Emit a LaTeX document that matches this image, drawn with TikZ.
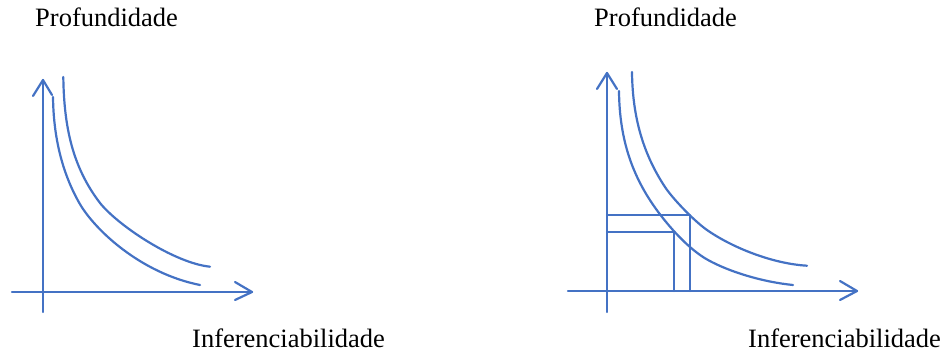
\documentclass[tikz,border=0pt]{standalone}
\usepackage{fontspec}
\setmainfont{Liberation Serif}
\definecolor{lineblue}{RGB}{68,114,196}
\begin{document}
\begin{tikzpicture}[x=1pt,y=-1pt,
  ln/.style={draw=lineblue,line width=2.2pt,line cap=round,line join=round},
  lbl/.style={anchor=base west,inner sep=0pt,font=\fontsize{26.5}{30}\selectfont}]
\useasboundingbox (0,0) rectangle (943,353);
% left diagram
\node[lbl] (p1) at (35,27) {Profundidade};
\node[lbl] (i1) at (192,347) {Inferenciabilidade};
\draw[ln] (43,312) -- (43,80);
\draw[ln] (33,96) -- (43,80) -- (52,95);
\draw[ln] (12,292) -- (252,292);
\draw[ln] (235,282) -- (252,292) -- (235,300);
\draw[ln] (53,97) .. controls (53.5,137) and (62,172.5) .. (79.3,203)
  .. controls (94.1,229.1) and (140,273) .. (200,285);
\draw[ln] (63.3,77) .. controls (64,127) and (72.5,167) .. (100,203)
  .. controls (118.8,226.3) and (175,263.2) .. (210,266.7);
% right diagram
\node[lbl] (p2) at (594,27) {Profundidade};
\node[lbl] (i2) at (748,347) {Inferenciabilidade};
\draw[ln] (607,312) -- (607,73);
\draw[ln] (597,89) -- (607,73) -- (617,89);
\draw[ln] (568,291) -- (857,291);
\draw[ln] (840,281) -- (857,291) -- (840,300);
\draw[ln] (619,91) .. controls (619.5,141) and (633,179.3) .. (660.5,215)
  .. controls (672.7,230.9) and (690.5,250.3) .. (708,260)
  .. controls (729.9,272.1) and (763,282) .. (793,285);
\draw[ln] (632,72) .. controls (632.5,117) and (643,153.6) .. (665,187)
  .. controls (673.3,199.5) and (694.7,221.4) .. (707,230)
  .. controls (731.6,247.2) and (772,263.7) .. (807,265.7);
\draw[ln] (607,215) -- (690,215) -- (690,291);
\draw[ln] (607,232) -- (674,232) -- (674,291);
\end{tikzpicture}
\end{document}
